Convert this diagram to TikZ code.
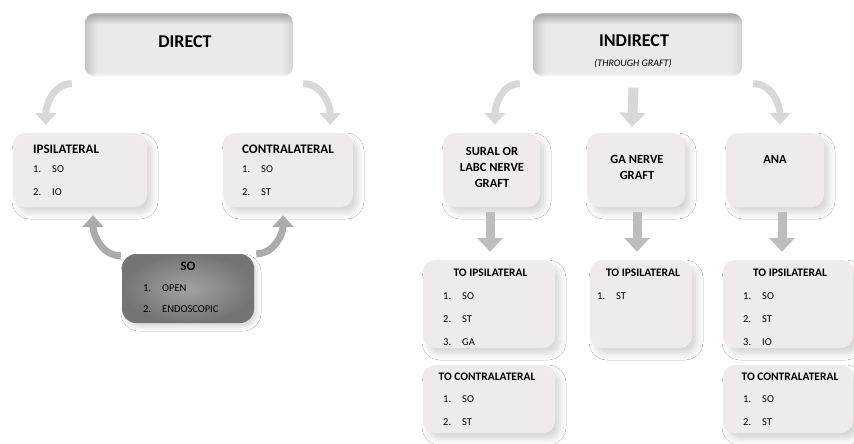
\documentclass[tikz,border=0pt]{standalone}
\usepackage{fontspec}
\setmainfont{Carlito}
\usetikzlibrary{arrows.meta,shadows.blur,fadings,calc}

\definecolor{boxfill}{HTML}{EFEBEB}
\definecolor{arrA}{HTML}{D8D8D8}
\definecolor{arrB}{HTML}{ABABAB}
\definecolor{arrC}{HTML}{BDBDBD}
\definecolor{hdark}{HTML}{C4C4C4}
\definecolor{hlight}{HTML}{EAEAEA}
\definecolor{hright}{HTML}{D6D6D6}
\definecolor{sodark}{HTML}{747474}
\definecolor{solight}{HTML}{A2A2A2}
\pgfdeclarehorizontalshading{hdrshade}{100bp}{color(0bp)=(hdark); color(25bp)=(hdark); color(28bp)=(hlight); color(72bp)=(hlight); color(75bp)=(hright); color(100bp)=(hright)}

\newcommand\itm[2]{\makebox[19pt][l]{#1}#2}

\tikzset{
  box/.style={rectangle, rounded corners=12pt, fill=boxfill, inner sep=0pt,
    blur shadow={shadow xshift=5pt, shadow yshift=-6pt, shadow blur radius=6pt, shadow opacity=16}},
  hdr/.style={rectangle, rounded corners=10pt, shading=hdrshade, inner sep=0pt,
    minimum width=208pt, minimum height=63pt},
  sobox/.style={rectangle, rounded corners=14pt, inner color=solight, outer color=sodark, inner sep=0pt,
    minimum width=132pt, minimum height=69pt,
    blur shadow={shadow xshift=3pt, shadow yshift=-4pt, shadow blur radius=4pt, shadow opacity=15}},
  bigt/.style={font=\fontsize{18}{20}\selectfont\bfseries, inner sep=0pt},
  subt/.style={font=\fontsize{10}{12}\selectfont\itshape, inner sep=0pt},
  ttl/.style={font=\fontsize{13}{15}\selectfont\bfseries, inner sep=0pt},
  ttlc/.style={font=\fontsize{12.5}{16}\selectfont\bfseries, inner sep=0pt, align=center},
  sttl/.style={font=\fontsize{11.5}{13}\selectfont\bfseries, inner sep=0pt},
  itemt/.style={font=\fontsize{10.5}{12}\selectfont, inner sep=0pt, anchor=west},
  arrtop/.style={draw=arrA, line width=7pt, -{Triangle[width=21pt,length=12pt]}},
  arrmid/.style={draw=arrA, line width=10pt, -{Triangle[width=26pt,length=14pt]}},
  arrso/.style={draw=arrB, line width=7pt, -{Triangle[width=21pt,length=12pt]}},
  arrdn/.style={draw=arrC, line width=9pt, -{Triangle[width=25pt,length=14pt]}},
}

\begin{document}
\begin{tikzpicture}[x=1pt,y=-1pt]
\useasboundingbox[fill=white] (0,0) rectangle (854,444);

% header boxes
\node[hdr] (direct) at (189,45) {};
\node[hdr, minimum width=209pt] (indirect) at (637.5,45) {};
\foreach \h in {direct,indirect}{
  \begin{scope}
    \clip[rounded corners=10pt] (\h.south west) rectangle (\h.north east);
    \fill[black!35, path fading=south] (\h.north west) rectangle ([yshift=-11pt]\h.north east);
    \fill[white, path fading=north, opacity=0.8] ([yshift=5pt]\h.south west) rectangle (\h.south east);
  \end{scope}
}
\node[bigt] (tdirect) at (185,41.5) {DIRECT};
\node[bigt] (tindirect) at (634,41) {INDIRECT};
\node[subt] (tthrough) at (633,64) {(THROUGH GRAFT)};

% direct branch boxes
\node[box, minimum width=134pt, minimum height=74pt] (ipsi) at (80,170) {};
\node[box, minimum width=130pt, minimum height=74pt] (contra) at (288,170) {};
\node[sobox] (so) at (188,288.5) {};

\node[ttl, anchor=west] (tipsi) at (33,149) {IPSILATERAL};
\node[itemt] (ipsi1) at (33,169) {\itm{1.}{SO}};
\node[itemt] (ipsi2) at (33,192) {\itm{2.}{IO}};
\node[ttl, anchor=west] (tcontra) at (242,149) {CONTRALATERAL};
\node[itemt] (contra1) at (242,169) {\itm{1.}{SO}};
\node[itemt] (contra2) at (242,192) {\itm{2.}{ST}};

\node[ttl] (tso) at (188,266) {SO};
\node[itemt] (so1) at (143,288) {\itm{1.}{OPEN}};
\node[itemt] (so2) at (143,309.5) {\itm{2.}{ENDOSCOPIC}};

% indirect branch boxes
\node[box, minimum width=97pt, minimum height=74pt] (sural) at (491.5,170) {};
\node[box, minimum width=98pt, minimum height=74pt] (ganerve) at (636,170) {};
\node[box, minimum width=98pt, minimum height=74pt] (ana) at (775,170) {};

\node[ttlc] (tsural) at (492,167) {SURAL OR\\LABC NERVE\\GRAFT};
\node[ttlc] (tganerve) at (637,167) {GA NERVE\\GRAFT};
\node[ttlc] (tana) at (775,159) {ANA};

\node[box, minimum width=132pt, minimum height=88pt] (toi1) at (489,304) {};
\node[box, minimum width=102pt, minimum height=88pt] (toi2) at (641,304) {};
\node[box, minimum width=130pt, minimum height=88pt] (toi3) at (788,304) {};
\node[box, minimum width=132pt, minimum height=68pt] (toc1) at (489,399) {};
\node[box, minimum width=130pt, minimum height=68pt] (toc3) at (788,399) {};

\node[sttl] (ttoi1) at (490.5,273) {TO IPSILATERAL};
\node[itemt] (toi1a) at (443,296) {\itm{1.}{SO}};
\node[itemt] (toi1b) at (443,319) {\itm{2.}{ST}};
\node[itemt] (toi1c) at (443,342) {\itm{3.}{GA}};

\node[sttl] (ttoi2) at (643,273) {TO IPSILATERAL};
\node[itemt] (toi2a) at (597,296) {\itm{1.}{ST}};

\node[sttl] (ttoi3) at (790,273) {TO IPSILATERAL};
\node[itemt] (toi3a) at (743,296) {\itm{1.}{SO}};
\node[itemt] (toi3b) at (743,319) {\itm{2.}{ST}};
\node[itemt] (toi3c) at (743,342) {\itm{3.}{IO}};

\node[sttl] (ttoc1) at (487,377) {TO CONTRALATERAL};
\node[itemt] (toc1a) at (443,399) {\itm{1.}{SO}};
\node[itemt] (toc1b) at (443,422) {\itm{2.}{ST}};

\node[sttl] (ttoc3) at (790,377) {TO CONTRALATERAL};
\node[itemt] (toc3a) at (743,399) {\itm{1.}{SO}};
\node[itemt] (toc3b) at (743,422) {\itm{2.}{ST}};

% arrows: direct
\draw[arrtop] ([xshift=-13pt,yshift=-7pt]direct.south west) to[out=180,in=90] ([xshift=33pt,yshift=8pt]ipsi.north west);
\draw[arrtop] ([xshift=10pt,yshift=-7pt]direct.south east) to[out=0,in=90] ([xshift=-23pt,yshift=8pt]contra.north east);
\draw[arrso] ([xshift=-1pt,yshift=-2pt]so.north west) to[out=180,in=-90] ([xshift=13pt,yshift=-8pt]ipsi.south);
\draw[arrso] ([xshift=2pt,yshift=0pt]so.north east) to[out=0,in=-90] ([xshift=-5pt,yshift=-8pt]contra.south);

% arrows: indirect
\draw[arrtop] ([xshift=-13pt,yshift=-7pt]indirect.south west) to[out=180,in=90] ([xshift=3.5pt,yshift=8pt]sural.north);
\draw[arrmid] ([xshift=-4pt,yshift=-11pt]indirect.south) -- ([xshift=-4pt,yshift=6pt]ganerve.north);
\draw[arrtop] ([xshift=11pt,yshift=-7pt]indirect.south east) to[out=0,in=90] ([xshift=5pt,yshift=8pt]ana.north);

\draw[arrdn] ([xshift=-1.5pt,yshift=-5pt]sural.south) -- ([xshift=-1.5pt,yshift=8pt]sural.south |- toi1.north);
\draw[arrdn] ([xshift=1pt,yshift=-5pt]ganerve.south) -- ([xshift=1pt,yshift=8pt]ganerve.south |- toi2.north);
\draw[arrdn] ([xshift=7pt,yshift=-5pt]ana.south) -- ([xshift=7pt,yshift=8pt]ana.south |- toi3.north);
\end{tikzpicture}
\end{document}
